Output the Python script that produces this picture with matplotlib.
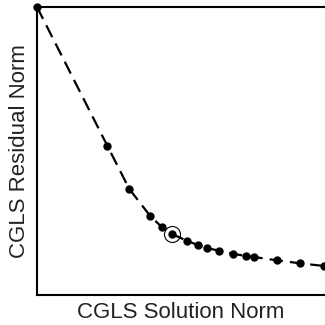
import matplotlib
matplotlib.use("Agg")
import matplotlib.pyplot as plt

# L-curve of CGLS iterates: solution norm vs residual norm
solution_norm = [0, 70.3, 92.3, 113, 124.7, 135, 149.7, 160.7, 169.7, 182,
                 195.7, 208.7, 217, 239.7, 263, 287]
residual_norm = [288, 149.3, 106, 79.3, 68, 61, 54.3, 50, 47, 44.3,
                 41.3, 39, 38, 34.7, 31.7, 29]
corner_index = 5

plt.rcParams['font.family'] = ['Liberation Sans', 'DejaVu Sans']

fig = plt.figure(figsize=(3.25, 3.25), dpi=100)
ax = fig.add_axes([37/325, 1 - 295/325, 1 - 37/325, (295 - 7)/325])

ax.plot(solution_norm, residual_norm, color='black', lw=1.6,
        ls=(0, (6, 3.2)), marker='o', ms=5, clip_on=False, zorder=3)
ax.plot(solution_norm[corner_index], residual_norm[corner_index], 'o',
        ms=11.5, mfc='none', mec='black', mew=0.8, zorder=4)

ax.set_xlim(0, 288)
ax.set_ylim(0, 288)
ax.set_xticks([])
ax.set_yticks([])
ax.spines['right'].set_visible(False)
for s in ['left', 'bottom', 'top']:
    ax.spines[s].set_linewidth(1.5)

ax.set_xlabel('CGLS Solution Norm', fontsize=16, labelpad=5, color='#222222')
ax.set_ylabel('CGLS Residual Norm', fontsize=16, labelpad=5, color='#222222')

fig.savefig('out.png', dpi=100)
